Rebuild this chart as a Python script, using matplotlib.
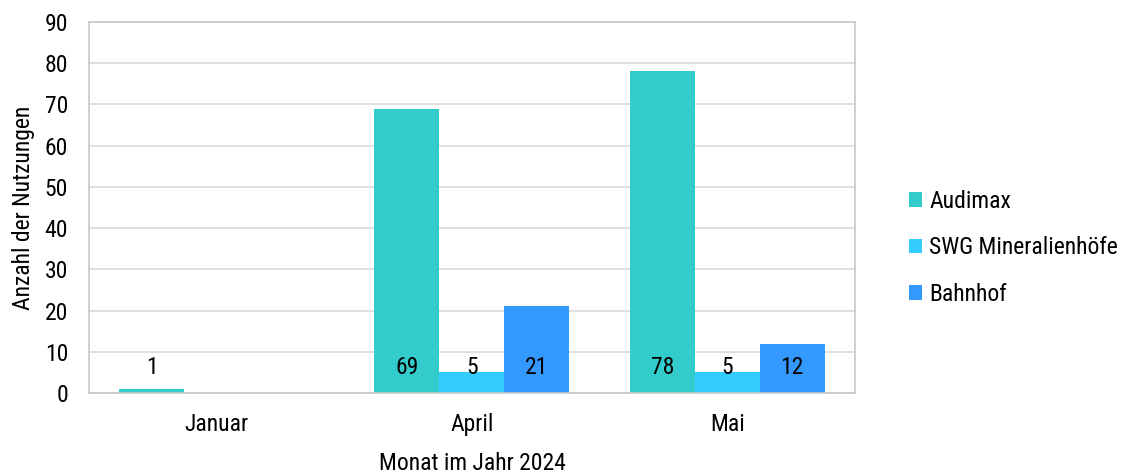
import numpy as np
import matplotlib.pyplot as plt
from matplotlib.patches import Patch

plt.rcParams['font.family'] = ['Roboto Condensed', 'Roboto', 'DejaVu Sans']

monate = ['Januar', 'April', 'Mai']
serien = ['Audimax', 'SWG Mineralienhöfe', 'Bahnhof']
audimax = [1, 69, 78]
swg = [0, 5, 5]
bahnhof = [0, 21, 12]
farben = ['#33CCCC', '#33CCFF', '#3399FF']

werte = [audimax, swg, bahnhof]

fig = plt.figure(figsize=(11.28, 4.73), dpi=100)
ax = fig.add_axes([0.0789, 0.169, 0.679, 0.7845])

x = np.arange(len(monate))
breite = 0.2545
for i, (name, vals, col) in enumerate(zip(serien, werte, farben)):
    pos = x + (i - 1) * breite
    ax.bar(pos, vals, breite, color=col, label=name, zorder=2)
    for p, v in zip(pos, vals):
        if v > 0:
            ax.text(p, 6.2, str(v), ha='center', va='center',
                    fontsize=17, color='black', zorder=3)

ax.set_xlim(-0.5, 2.5)
ax.set_ylim(0, 90)
ax.set_yticks(range(0, 91, 10))
ax.set_xticks(x)
ax.set_xticklabels(monate)
ax.tick_params(axis='both', length=0, labelsize=17)
ax.tick_params(axis='y', pad=15)
ax.tick_params(axis='x', pad=14)
ax.grid(axis='y', color='#d9d9d9', linewidth=1.2, zorder=0)
for s in ax.spines.values():
    s.set_color('#c8c8c8')
    s.set_linewidth(1.2)

ax.set_xlabel('Monat im Jahr 2024', fontsize=17, labelpad=12)
ax.set_ylabel('Anzahl der Nutzungen', fontsize=17, labelpad=7)

griffe = [Patch(facecolor=c, edgecolor='none') for c in farben]
fig.legend(griffe, serien, loc='center left', bbox_to_anchor=(0.787, 0.476),
           frameon=False, fontsize=17, handlelength=0.55, handleheight=0.55,
           handletextpad=0.3, labelspacing=1.0)

fig.savefig('out.png', dpi=100)
